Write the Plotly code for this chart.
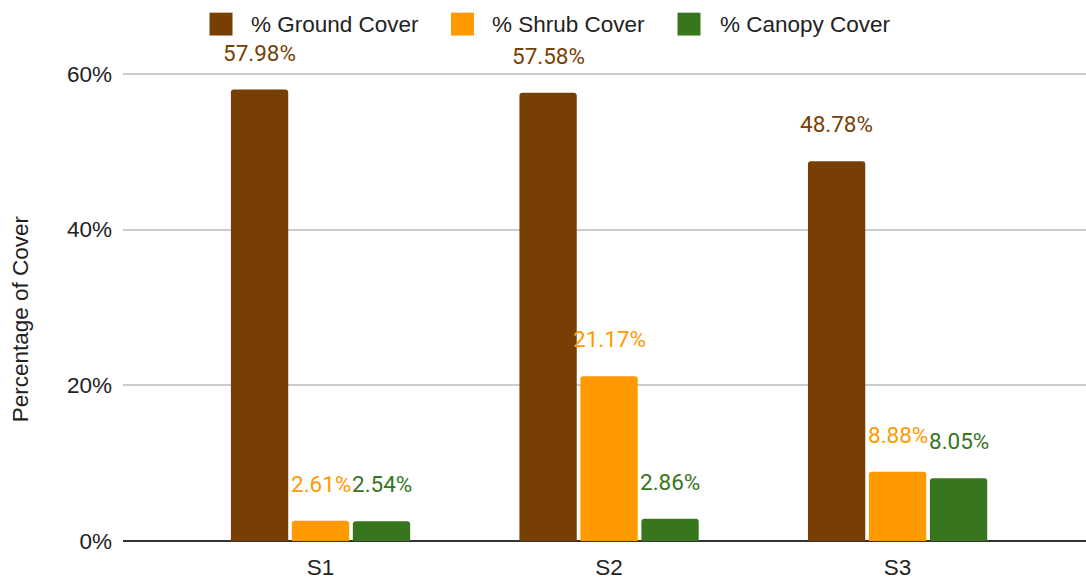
import plotly.graph_objects as go

# Site categories and cover percentages
sites = ["S1", "S2", "S3"]
ground_cover = [57.98, 57.58, 48.78]
shrub_cover = [2.61, 21.17, 8.88]
canopy_cover = [2.54, 2.86, 8.05]

series_names = ["% Ground Cover", "% Shrub Cover", "% Canopy Cover"]
series_colors = ["#783f04", "#ff9900", "#38761d"]
y_ticks = [0, 20, 40, 60]
y_tick_text = ["0%", "20%", "40%", "60%"]

W, H = 1086, 580
M_L, M_R, M_T, M_B = 123, 0, 40, 36
BARGAP = 0.366
BARGROUPGAP = 0.06

SANS = "Liberation Sans, Arial, sans-serif"
TEXT_COLOR = "#222222"
TICK_FONT = dict(family=SANS, size=22.5, color=TEXT_COLOR)
LABEL_FONT_FAMILY = "Roboto, sans-serif"

fig = go.Figure()
all_series = [ground_cover, shrub_cover, canopy_cover]
for name, vals, color in zip(series_names, all_series, series_colors):
    fig.add_trace(go.Bar(
        x=sites, y=vals, name=name, marker=dict(color=color, line=dict(width=0)),
        showlegend=False, hoverinfo="x+y+name",
    ))

# Value labels above each bar, centred on the bar within its group
n = len(all_series)
slot = (1 - BARGAP) / n
annotations = []
for si, (vals, color) in enumerate(zip(all_series, series_colors)):
    offset = (si - (n - 1) / 2) * slot
    for ci, v in enumerate(vals):
        annotations.append(dict(
            x=ci + offset, y=v, xref="x", yref="y", text=f"{v:.2f}%",
            showarrow=False, yanchor="middle", yshift=37,
            font=dict(family=LABEL_FONT_FAMILY, size=22.5, color=color),
        ))

# Plot-area geometry helpers for the legend row
plot_w = W - M_L - M_R
plot_h = H - M_T - M_B


def px_x(px):
    return (px - M_L) / plot_w


def px_y(py):
    return (H - M_B - py) / plot_h


shapes = []
legend_squares = [209.5, 451.0, 677.5]
legend_text_x = [248.5, 489.5, 718.0]
sq = 23
sq_top = 12.5
for name, color, sx, tx in zip(series_names, series_colors, legend_squares, legend_text_x):
    shapes.append(dict(
        type="rect", xref="paper", yref="paper",
        x0=px_x(sx), x1=px_x(sx + sq), y0=px_y(sq_top + sq), y1=px_y(sq_top),
        fillcolor=color, line=dict(width=0), layer="above",
    ))
    annotations.append(dict(
        x=px_x(tx), y=px_y(sq_top + sq / 2), xref="paper", yref="paper",
        text=name, showarrow=False, xanchor="left", yanchor="middle",
        font=dict(family=SANS, size=22.5, color=TEXT_COLOR),
    ))

# Vertical axis title
annotations.append(dict(
    x=px_x(20), y=px_y(321), xref="paper", yref="paper",
    text="Percentage of Cover", textangle=-90, showarrow=False,
    xanchor="center", yanchor="middle",
    font=dict(family=SANS, size=22.5, color=TEXT_COLOR),
))

# Vertical scale: 60% sits at y=74px, 0% at the bottom of the plot area
px_per_pct = (H - M_B - 74) / 60.0
y_top = plot_h / px_per_pct

fig.update_layout(
    width=W, height=H,
    margin=dict(l=M_L, r=M_R, t=M_T, b=M_B, pad=0),
    paper_bgcolor="white", plot_bgcolor="white",
    barmode="group", bargap=BARGAP, bargroupgap=BARGROUPGAP,
    barcornerradius=3,
    showlegend=False,
    annotations=annotations,
    shapes=shapes,
    xaxis=dict(
        type="category", range=[-0.6846, 2.653],
        showgrid=False, showline=False, zeroline=False,
        tickfont=TICK_FONT, ticks="", ticklabelstandoff=10,
        fixedrange=True,
    ),
    yaxis=dict(
        range=[0, y_top], tickmode="array", tickvals=y_ticks, ticktext=y_tick_text,
        showgrid=True, gridcolor="#cccccc", gridwidth=1.5,
        zeroline=True, zerolinecolor="#333333", zerolinewidth=2,
        showline=False, tickfont=TICK_FONT, ticks="", ticklabelstandoff=10,
        fixedrange=True,
    ),
)

fig.write_html("out.html")
